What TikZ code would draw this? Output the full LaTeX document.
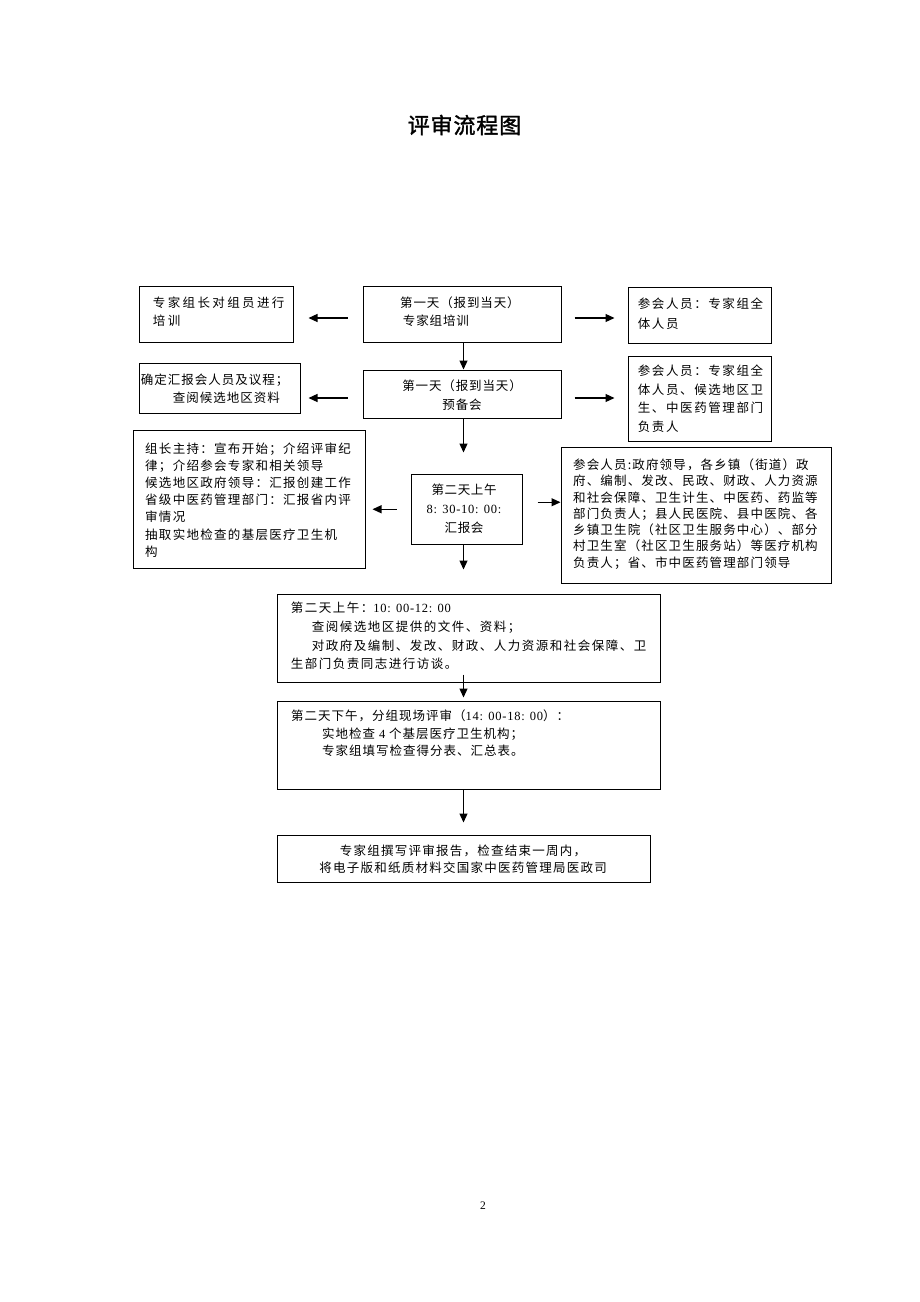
\documentclass[tikz,border=0pt]{standalone}
\usepackage{fontspec}
\usetikzlibrary{arrows.meta,calc}
\newfontfamily\cjk{Noto Sans CJK SC}
\newfontfamily\cjkb[FakeBold=1.5]{Noto Sans CJK SC}
\newfontfamily\lat[LetterSpace=6]{Liberation Serif}
\newfontfamily\latn{Liberation Serif}
\newcommand\tx[2]{\cjk\fontsize{12.5}{#2}\selectfont\addfontfeatures{LetterSpace=#1}}
\begin{document}
\begin{tikzpicture}[x=1pt,y=-1pt,
  box/.style={draw,line width=1pt,inner sep=0pt},
  txt/.style={anchor=west,inner sep=0pt,align=left},
  ctxt/.style={anchor=center,inner sep=0pt,align=center},
  arr/.style={line width=1.2pt,-{Triangle[length=9pt,width=8pt]}}]
\useasboundingbox[fill=white] (0,0) rectangle (920,1302);

\node[font={\cjkb\fontsize{22}{26}\selectfont\addfontfeatures{LetterSpace=4}}] (title) at (464.5,125) {评审流程图};

% boxes
\node[box,minimum width=154pt,minimum height=56.5pt] (A) at (216,314.25) {};
\node[box,minimum width=198pt,minimum height=56pt] (B) at (462,314) {};
\node[box,minimum width=143pt,minimum height=56pt] (C) at (699.5,315) {};
\node[box,minimum width=161pt,minimum height=50.5pt] (D) at (219.5,388.25) {};
\node[box,minimum width=198pt,minimum height=48pt] (E) at (462,394) {};
\node[box,minimum width=143pt,minimum height=85pt] (F) at (699.5,398.5) {};
\node[box,minimum width=232pt,minimum height=138pt] (G) at (249,499) {};
\node[box,minimum width=111.5pt,minimum height=70.5pt] (H) at (466.75,509.25) {};
\node[box,minimum width=270pt,minimum height=136pt] (I) at (696,515) {};
\node[box,minimum width=383pt,minimum height=88pt] (J) at (468.5,638) {};
\node[box,minimum width=383pt,minimum height=88.5pt] (K) at (468.5,745.25) {};
\node[box,minimum width=373pt,minimum height=47pt] (L) at (463.5,858.5) {};

% texts
\node[txt,font={\tx{19}{18}}] (At) at (152.7,311.7) {专家组长对组员进行\\培训};
\node[txt,font={\tx{7}{18}}] (Bt) at (400,312) {第一天（报到当天）\\\hspace{2.7pt}专家组培训};
\node[txt,font={\tx{12.8}{19.3}}] (Ct) at (637.7,313.7) {参会人员：专家组全\\体人员};
\node[txt,font={\tx{8}{18}}] (Dt) at (140.7,389) {确定汇报会人员及议程；\\\hspace{32pt}查阅候选地区资料};
\node[ctxt,font={\tx{7}{19}}] (Et) at (462,395.5) {第一天（报到当天）\\预备会};
\node[txt,font={\tx{12.8}{18.7}}] (Ft) at (637.7,398.8) {参会人员：专家组全\\体人员、候选地区卫\\生、中医药管理部门\\负责人};
\node[txt,font={\tx{10.4}{17.2}}] (Gt) at (145,500) {组长主持：宣布开始；介绍评审纪\\律；介绍参会专家和相关领导\\候选地区政府领导：汇报创建工作\\省级中医药管理部门：汇报省内评\\审情况\\抽取实地检查的基层医疗卫生机\\构};
\node[ctxt,font={\tx{5}{19}}] (Ht) at (464,509) {第二天上午\\{\lat 8: 30-10: 00:}\\汇报会};
\node[txt,font={\tx{9.2}{16.3}}] (It) at (573,514) {参会人员:政府领导，各乡镇（街道）政\\府、编制、发改、民政、财政、人力资源\\和社会保障、卫生计生、中医药、药监等\\部门负责人；县人民医院、县中医院、各\\乡镇卫生院（社区卫生服务中心）、部分\\村卫生室（社区卫生服务站）等医疗机构\\负责人；省、市中医药管理部门领导};
\node[txt,font={\tx{12}{18.7}}] (Jt) at (290.7,636) {第二天上午：{\lat 10: 00-12: 00}\\\hspace{21pt}查阅候选地区提供的文件、资料；\\\hspace{21pt}对政府及编制、发改、财政、人力资源和社会保障、卫\\生部门负责同志进行访谈。};
\node[txt,font={\tx{8}{17.5}}] (Kt) at (291,733.5) {第二天下午，分组现场评审（{\lat 14: 00-18: 00}）：\\\hspace{31pt}实地检查 {\lat 4} 个基层医疗卫生机构；\\\hspace{31pt}专家组填写检查得分表、汇总表。};
\node[ctxt,font={\tx{10}{17}}] (Lt) at (463,859.5) {专家组撰写评审报告，检查结束一周内，\\将电子版和纸质材料交国家中医药管理局医政司};

\node[font=\latn\fontsize{11.5}{13}\selectfont] (pg) at (483,1206) {2};

% connectors
\coordinate (ax) at (463.5,0);
\draw[arr] (B.south -| ax) -- (E.north -| ax);
\draw[arr,shorten >=21pt] (E.south -| ax) -- (H.north -| ax);
\draw[arr,shorten >=24pt] (H.south -| ax) -- (J.north -| ax);
\draw[arr,shorten <=-8pt,shorten >=3pt] (J.south -| ax) -- (K.north -| ax);
\draw[arr,shorten >=12pt] (K.south -| ax) -- (L.north -| ax);

\draw[arr,shorten <=15pt,shorten >=15pt] ([yshift=-4pt]B.west) -- ([yshift=-4pt]B.west -| A.east);
\draw[arr,shorten <=13pt,shorten >=13pt] ([yshift=-4pt]B.east) -- ([yshift=-4pt]B.east -| C.west);
\draw[arr,shorten <=15pt,shorten >=8pt] ([yshift=-4pt]E.west) -- ([yshift=-4pt]E.west -| D.east);
\draw[arr,shorten <=13pt,shorten >=13pt] ([yshift=-4pt]E.east) -- ([yshift=-4pt]E.east -| F.west);
\draw[arr,shorten <=14pt,shorten >=7pt] (H.west) -- (H.west -| G.east);
\draw[arr,shorten <=14.5pt] ([yshift=7pt]H.east) -- ([yshift=7pt]H.east -| I.west);
\end{tikzpicture}
\end{document}
